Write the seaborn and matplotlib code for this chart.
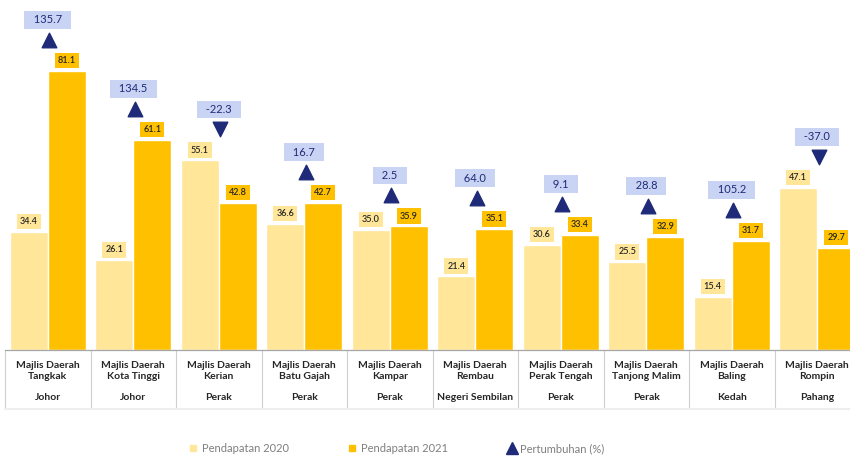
import pandas as pd
import matplotlib.pyplot as plt
import seaborn as sns
from matplotlib.lines import Line2D

# Data (RM juta)
councils = ['Tangkak', 'Kota Tinggi', 'Kerian', 'Batu Gajah', 'Kampar',
            'Rembau', 'Perak Tengah', 'Tanjong Malim', 'Baling', 'Rompin']
states = ['Johor', 'Johor', 'Perak', 'Perak', 'Perak',
          'Negeri Sembilan', 'Perak', 'Perak', 'Kedah', 'Pahang']
rev_2020 = [34.4, 26.1, 55.1, 36.6, 35.0, 21.4, 30.6, 25.5, 15.4, 47.1]
rev_2021 = [81.1, 61.1, 42.8, 42.7, 35.9, 35.1, 33.4, 32.9, 31.7, 29.7]
growth = [135.7, 134.5, -22.3, 16.7, 2.5, 64.0, 9.1, 28.8, 105.2, -37.0]
series = ['Pendapatan 2020', 'Pendapatan 2021']

light = '#FFE699'
gold = '#FFC000'
navy = '#1F2A78'
lav = '#C9D3F3'

sns.set_theme(style='white')
plt.rcParams['font.family'] = ['Lato', 'DejaVu Sans']

df = pd.DataFrame({
    'Majlis': councils * 2,
    'Tahun': [series[0]] * len(councils) + [series[1]] * len(councils),
    'Nilai': rev_2020 + rev_2021,
})

fig = plt.figure(figsize=(8.5, 4.57), dpi=100)
ax = fig.add_axes([5 / 850, 107 / 457, 855 / 850, 350 / 457])
sns.barplot(data=df, x='Majlis', y='Nilai', hue='Tahun', order=councils,
            hue_order=series, palette=[light, gold], saturation=1,
            width=0.89, gap=0, legend=False, ax=ax)

ax.set_ylim(0, 101.7)
ax.set_xlim(-0.5, 9.5)
ax.set_xlabel('')
ax.set_ylabel('')
ax.set_xticks([])
ax.set_yticks([])
for s in ['top', 'right', 'left']:
    ax.spines[s].set_visible(False)
ax.spines['bottom'].set_color('#a6a6a6')
ax.spines['bottom'].set_linewidth(0.9)

# value labels above each bar
box_cols = [light, gold]
for cont, bc in zip(ax.containers, box_cols):
    for bar in cont:
        h = bar.get_height()
        ax.text(bar.get_x() + bar.get_width() / 2, h + 3, f'{h:.1f}',
                ha='center', va='center', fontsize=6.5, fontweight='semibold',
                color='#262626',
                bbox=dict(boxstyle='square,pad=0.35', fc=bc, ec='none'))

# growth markers and labels
for i, g in enumerate(growth):
    top = max(rev_2020[i], rev_2021[i])
    ax.scatter(i + 0.02, top + 9, marker='^' if g > 0 else 'v', s=110,
               color=navy, zorder=5, clip_on=False)
    ax.text(i, top + 14.8, f'  {g:.1f}  ', ha='center', va='center',
            fontsize=8, color=navy,
            bbox=dict(boxstyle='square,pad=0.3', fc=lav, ec='none'))

# category table under the axis
tr = ax.get_xaxis_transform()
for i, (c, st) in enumerate(zip(councils, states)):
    ax.text(i, -0.06, 'Majlis Daerah\n' + c, transform=tr, ha='center',
            va='center', fontsize=7.5, fontweight='bold', color='#262626',
            linespacing=1.15)
    ax.text(i, -0.137, st, transform=tr, ha='center', va='center',
            fontsize=7.5, fontweight='bold', color='#262626')
for k in range(len(councils)):
    ax.plot([k - 0.5, k - 0.5], [0, -0.165], transform=tr, clip_on=False,
            color='#cfcfcf', lw=0.8)
ax.plot([-0.5, 9.5], [-0.168, -0.168], transform=tr, clip_on=False,
        color='#eeeeee', lw=1.5)

handles = [
    Line2D([], [], marker='s', ls='', color=light, markersize=5),
    Line2D([], [], marker='s', ls='', color=gold, markersize=5),
    Line2D([], [], marker='^', ls='', color=navy, markersize=9),
]
fig.legend(handles, series + ['Pertumbuhan (%)'], loc='center',
           bbox_to_anchor=(0.466, 0.018), ncol=3, frameon=False,
           fontsize=8, labelcolor='#7f7f7f', columnspacing=5.2,
           handletextpad=0.3, handlelength=1)

fig.savefig('out.png', dpi=100)
